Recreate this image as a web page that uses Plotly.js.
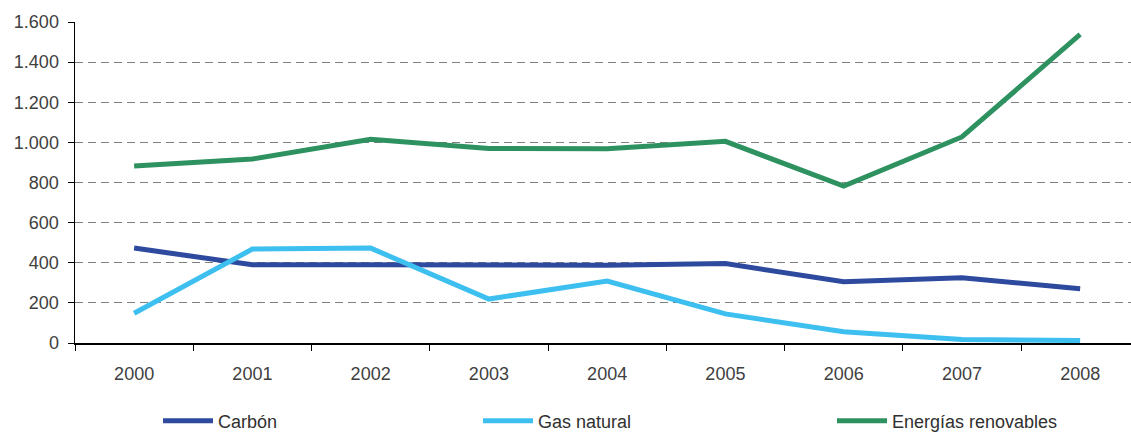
<!DOCTYPE html>
<html><head><meta charset="utf-8">
<script src="https://cdn.plot.ly/plotly-3.0.1.min.js"></script>
<style>body{margin:0;background:#fff}</style>
</head><body>
<div id="chart" style="width:1131px;height:434px"></div>
<script>
const years = ["2000","2001","2002","2003","2004","2005","2006","2007","2008"];
const carbon = [473, 390, 390, 390, 388, 396, 305, 325, 270];
const gasNatural = [148, 468, 473, 219, 309, 145, 56, 18, 12];
const renovables = [882, 917, 1015, 970, 968, 1005, 782, 1027, 1538];
const seriesNames = ["Carbón", "Gas natural", "Energías renovables"];
const seriesColors = ["#2E4A9E", "#3DBFEF", "#2E9160"];

const allValues = [carbon, gasNatural, renovables];
const legendIds = ["legend", "legend2", "legend3"];
const traces = allValues.map((vals, i) => ({
  x: years, y: vals, type: "scatter", mode: "lines",
  name: seriesNames[i], legend: legendIds[i],
  line: {color: seriesColors[i], width: 5}
}));

const font = {family: "Liberation Sans, Arial, sans-serif", size: 18, color: "#404040"};
const legendBase = {orientation: "h", yref: "container", yanchor: "middle", y: (434 - 421) / 434,
  xanchor: "left",
  font: {family: "Liberation Sans, Arial, sans-serif", size: 18, color: "#303030"},
  bgcolor: "rgba(0,0,0,0)", itemwidth: 50};

const layout = {
  width: 1131, height: 434,
  margin: {l: 75, r: 0, t: 22, b: 91},
  paper_bgcolor: "#fff", plot_bgcolor: "#fff",
  separators: ",.",
  font: font,
  showlegend: true,
  xaxis: {
    type: "category", range: [-0.5, 8.43],
    tickson: "boundaries", ticks: "outside", ticklen: 6, tickcolor: "#000",
    showline: true, linecolor: "#000", linewidth: 1.5,
    showgrid: false, zeroline: false, ticklabelstandoff: 14,
    tickfont: font, automargin: false
  },
  yaxis: {
    range: [0, 1600], dtick: 200, tickformat: ",d",
    ticks: "outside", ticklen: 6, tickcolor: "#000",
    showline: true, linecolor: "#000", linewidth: 1.5,
    showgrid: true, gridcolor: "#808080", gridwidth: 1, griddash: "8px,5px",
    zeroline: false, ticklabelstandoff: 5,
    tickfont: font, automargin: false
  },
  legend: Object.assign({}, legendBase, {x: (158 - 75) / 1056}),
  legend2: Object.assign({}, legendBase, {x: (478 - 75) / 1056}),
  legend3: Object.assign({}, legendBase, {x: (832 - 75) / 1056})
};

Plotly.newPlot("chart", traces, layout, {displayModeBar: false, staticPlot: true});
</script>
</body></html>
